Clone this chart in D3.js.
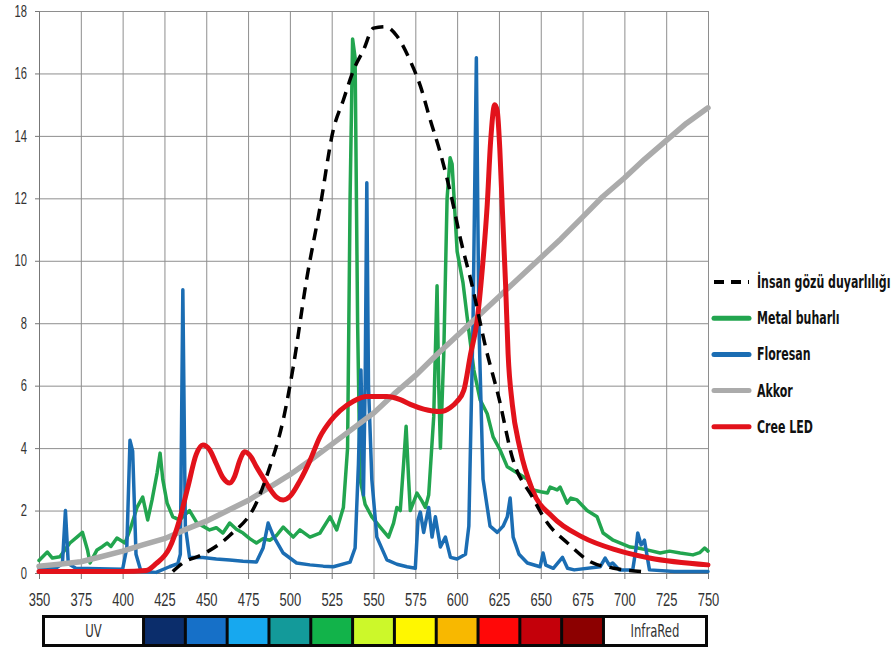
<!DOCTYPE html>
<html lang="tr">
<head>
<meta charset="UTF-8">
<title>Işık kaynaklarının spektrumu</title>
<script src="https://cdn.jsdelivr.net/npm/d3@7"></script>
<style>
  body { margin: 0; background: #fff; }
  svg { display: block; font-family: "Liberation Sans Narrow", "DejaVu Sans Condensed", sans-serif; }
  .grid line { stroke: #8e8e8e; stroke-width: 1; }
  .grid path { display: none; }
  .axis text { fill: #333; }
  .axis path, .axis line { stroke: #777; }
  .legend text { font-size: 17px; font-weight: bold; fill: #111; }
  .bar text { font-size: 18px; fill: #333; }
</style>
</head>
<body>
<svg width="894" height="653"></svg>
<script>
// wavelength (nm) / relative intensity
const eyeSens = [[430,0.05],[436,0.32],[448,0.6],[464,1.2],[480,2.25],[488,3.4],[496,4.9],[502,6.6],[510,9.4],
  [518,11.7],[526,14.2],[532,15.15],[538,16.1],[544,16.75],[550,17.45],[557,17.5],[564,17.2],[572,16.4],
  [578,15.6],[584,14.5],[590,13.45],[597,11.95],[602,10.7],[609,9.2],[617,7.24],[625,5.6],[633,3.7],
  [645,2.43],[654,1.6],[666,0.96],[680,0.35],[693,0.16],[714,0.03]];

const metalHalide = [[350,0.4],[355,0.67],[358,0.48],[362.5,0.52],[368.5,0.96],[372.7,1.15],[376,1.3],[379,0.74],
  [380.5,0.32],[384.7,0.74],[388,0.85],[390.7,0.96],[393,0.85],[396.6,1.12],[401.4,0.96],[404.4,1.38],[408.6,2.1],
  [412,2.43],[415,1.7],[417.6,2.34],[420.6,3.2],[422.4,3.84],[424,3.0],[426.6,2.24],[430,1.8],[434,1.7],[440,2.0],
  [444.5,1.6],[448,1.5],[452,1.38],[456,1.45],[460,1.28],[464,1.6],[468,1.4],[472,1.28],[476,1.1],[480,0.96],
  [484,1.1],[488,1.05],[492,1.2],[496,1.47],[502,1.15],[506,1.38],[512,1.15],[518,1.28],[524,1.8],[528,1.38],
  [532,2.1],[534.5,4],[536,12],[537.5,17.1],[539,16.5],[540.5,8],[542,3],[545,2.2],[549,1.8],[554,1.47],[559,1.15],
  [562,1.6],[564,2.1],[566,2.0],[568,3.5],[569.5,4.7],[571,3],[572,2.0],[576,2.56],[579,2.3],[581,2.1],[583,2.5],
  [586,5],[588,9.2],[589,6],[590,4.0],[592,7],[594,12],[595.8,13.3],[597,13.1],[600,10.3],[603.5,9.3],[606,8.2],
  [607.7,7.46],[610,6.5],[613.8,5.54],[618,5.1],[621.5,4.36],[625.7,3.94],[630,3.4],[636,3.2],[642,3.0],
  [645.5,2.66],[650,2.6],[654,2.56],[655.6,2.75],[659.8,2.66],[661.6,2.75],[665.8,2.24],[668,2.4],[671.7,2.34],
  [677.7,2.0],[683.7,1.8],[687.3,1.28],[693.3,1.05],[698,0.95],[703.4,0.83],[708,0.8],[713.6,0.74],[721.4,0.64],
  [727,0.7],[733.4,0.64],[741,0.58],[745,0.65],[748,0.8],[750,0.7]];

const fluorescent = [[350,0.15],[360,0.15],[364,0.3],[365.8,2.0],[367.5,0.3],[372,0.15],[400,0.12],[402.5,0.8],
  [404.4,4.25],[406,3.9],[408,0.6],[411,0.05],[420,0.02],[428,0.2],[433,0.3],[434.5,0.6],[436,9.07],[437.5,1.5],
  [440,0.5],[448,0.5],[456,0.45],[464,0.42],[472,0.38],[480,0.35],[484,0.8],[487,1.6],[490,1.2],[496,0.64],
  [504,0.32],[512,0.26],[520,0.22],[526,0.2],[536,0.35],[539,0.8],[541,3.5],[542.5,6.5],[544,2.5],[545,6],
  [546,12.5],[547,6],[549,3.0],[552,1.15],[558,0.42],[564,0.28],[570,0.2],[575,0.15],[576.6,1.7],[578,1.95],
  [580,1.3],[583,2.1],[585,1.15],[587,1.8],[590,0.83],[593,1.15],[596,0.5],[600,0.45],[605,0.6],[607,1.5],
  [609.5,8],[611.5,16.5],[613,8],[615.5,3.0],[619.7,1.5],[624,1.3],[627.5,1.5],[630,1.8],[631.7,2.4],[633.5,1.15],
  [637,0.6],[642,0.32],[649.6,0.2],[651.4,0.64],[653,0.25],[657.5,0.15],[663,0.5],[666,0.15],[670,0.1],
  [685.5,0.2],[688.5,0.48],[691,0.25],[693,0.32],[697,0.1],[705,0.1],[707,0.8],[708,1.28],[710,0.9],[712,1.05],
  [715,0.1],[730,0.05],[750,0.05]];

const incandescent = [[350,0.22],[362,0.28],[375,0.36],[387,0.52],[400,0.7],[412,0.9],[425,1.1],[437,1.38],
  [450,1.66],[462,1.98],[475,2.32],[487,2.72],[500,3.15],[512,3.6],[525,4.12],[537,4.6],[550,5.12],[562,5.72],
  [575,6.32],[587,6.95],[600,7.6],[612,8.2],[625,8.85],[637,9.45],[650,10.1],[662,10.7],[675,11.4],[687,12.05],
  [700,12.65],[712,13.25],[725,13.85],[737,14.4],[750,14.9]];

const creeLed = [[350,0.05],[400,0.05],[414,0.08],[420,0.3],[428,0.8],[434,1.7],[439,2.75],[444,3.8],[448,4.1],
  [452,3.95],[456,3.5],[460,3.05],[464,2.88],[467,3.1],[470,3.6],[473,3.88],[477,3.7],[480,3.4],[484,3.05],
  [488,2.7],[492,2.43],[496,2.34],[500,2.45],[506,2.95],[512,3.6],[518,4.36],[524,4.85],[530,5.2],[538,5.5],
  [546,5.65],[558,5.65],[566,5.55],[572,5.4],[580,5.25],[590,5.17],[596,5.3],[600,5.5],[604,5.85],[608,7.0],
  [612,8.1],[615,9.7],[618,11.8],[620,13.8],[622.5,15.0],[624,14.8],[625.5,13.6],[627,11.7],[629,9.2],
  [630.5,7.0],[633,5.4],[637.5,4.0],[645,2.66],[657,1.8],[675,1.15],[695,0.74],[715,0.48],[750,0.26]];

const seriesNames = ["İnsan gözü duyarlılığı", "Metal buharlı", "Floresan", "Akkor", "Cree LED"];
const xTicks = [350, 375, 400, 425, 450, 475, 500, 525, 550, 575, 600, 625, 650, 675, 700, 725, 750];
const yTicks = [0, 2, 4, 6, 8, 10, 12, 14, 16, 18];
const bandColors = ["#0b2d6b", "#1670c8", "#17a8ef", "#139a9a", "#12b34a", "#ccf82a",
                    "#fff700", "#f8b800", "#ff0808", "#c4000a", "#8c0000"];
const bandStart = 412.5, bandStep = 25;

const svg = d3.select("svg");
const x = d3.scaleLinear().domain([350, 750]).range([39, 708]);
const y = d3.scaleLinear().domain([0, 18]).range([573, 11]);

// the source font is a tall, narrow one: squeeze the texts sideways
function squeeze(sel, k) {
  sel.each(function() {
    const t = d3.select(this);
    const tx = +t.attr("x") || 0;
    t.attr("x", tx / k).attr("transform", `scale(${k},1)`);
  });
}

// grid
svg.append("g").attr("class", "grid")
  .attr("transform", "translate(0,573)")
  .call(d3.axisBottom(x).tickValues(xTicks).tickSize(-(573 - 11)).tickFormat(""));
svg.append("g").attr("class", "grid")
  .attr("transform", "translate(39,0)")
  .call(d3.axisLeft(y).tickValues(yTicks).tickSize(-(708 - 39)).tickFormat(""));

// axes
const xAxis = svg.append("g").attr("class", "axis")
  .attr("transform", "translate(0,573)")
  .call(d3.axisBottom(x).tickValues(xTicks).tickSize(6).tickPadding(14).tickSizeOuter(0));
xAxis.selectAll("text").style("font-size", "18px").call(squeeze, 0.72);
const yAxis = svg.append("g").attr("class", "axis")
  .attr("transform", "translate(39,0)")
  .call(d3.axisLeft(y).tickValues(yTicks).tickSize(4).tickPadding(8).tickSizeOuter(0));
yAxis.selectAll("text").style("font-size", "16px").call(squeeze, 0.7);

// series
const straight = d3.line().x(d => x(d[0])).y(d => y(d[1]));
const smooth = d3.line().x(d => x(d[0])).y(d => y(d[1])).curve(d3.curveMonotoneX);

const plots = [
  {data: metalHalide, color: "#22a54f", width: 3.5, line: straight},
  {data: fluorescent, color: "#1b6db3", width: 3.5, line: straight},
  {data: incandescent, color: "#ababab", width: 5.5, line: straight},
  {data: creeLed, color: "#e2121b", width: 5, line: smooth},
  {data: eyeSens, color: "#000", width: 3.5, line: smooth, dash: "12,8"}
];
plots.forEach(p => {
  svg.append("path")
    .attr("d", p.line(p.data))
    .attr("fill", "none")
    .attr("stroke", p.color)
    .attr("stroke-width", p.width)
    .attr("stroke-linejoin", "round")
    .attr("stroke-linecap", p.dash ? "butt" : "round")
    .attr("stroke-dasharray", p.dash || null);
});

// legend
const legendItems = [plots[4], plots[0], plots[1], plots[2], plots[3]];
const legend = svg.append("g").attr("class", "legend");
legendItems.forEach((p, i) => {
  const ly = 282 + i * 36.2;
  legend.append("line")
    .attr("x1", 714).attr("x2", 749).attr("y1", ly).attr("y2", ly)
    .attr("stroke", p.color)
    .attr("stroke-width", p.dash ? 4 : 5)
    .attr("stroke-linecap", p.dash ? "butt" : "round")
    .attr("stroke-dasharray", p.dash ? "10,7" : null);
  legend.append("text")
    .attr("x", 757).attr("y", ly).attr("dy", "0.35em")
    .text(seriesNames[i]);
});
legend.selectAll("text").call(squeeze, 0.72);

// colour band under the axis
const bar = svg.append("g").attr("class", "bar");
bar.append("rect")
  .attr("x", x(350) + 3).attr("y", 615)
  .attr("width", x(750) - x(350) - 3).attr("height", 32)
  .attr("fill", "#080808");
const uvEnd = x(bandStart) - 1.5;
const irStart = x(bandStart + bandColors.length * bandStep) + 1.5;
bar.append("rect").attr("x", x(350) + 6).attr("y", 618)
  .attr("width", uvEnd - x(350) - 6).attr("height", 26).attr("fill", "#fff");
bar.append("rect").attr("x", irStart).attr("y", 618)
  .attr("width", x(750) - 3 - irStart).attr("height", 26).attr("fill", "#fff");
bar.selectAll("rect.band").data(bandColors).join("rect")
  .attr("class", "band")
  .attr("x", (c, i) => x(bandStart + i * bandStep) + 1.5)
  .attr("y", 618)
  .attr("width", x(bandStart + bandStep) - x(bandStart) - 3)
  .attr("height", 26)
  .attr("fill", c => c);
bar.append("text").attr("x", (x(350) + 6 + uvEnd) / 2).attr("y", 631).attr("dy", "0.36em")
  .attr("text-anchor", "middle").text("UV");
bar.append("text").attr("x", (irStart + x(750) - 3) / 2).attr("y", 631).attr("dy", "0.36em")
  .attr("text-anchor", "middle").text("InfraRed");
bar.selectAll("text").call(squeeze, 0.72);
</script>
</body>
</html>
